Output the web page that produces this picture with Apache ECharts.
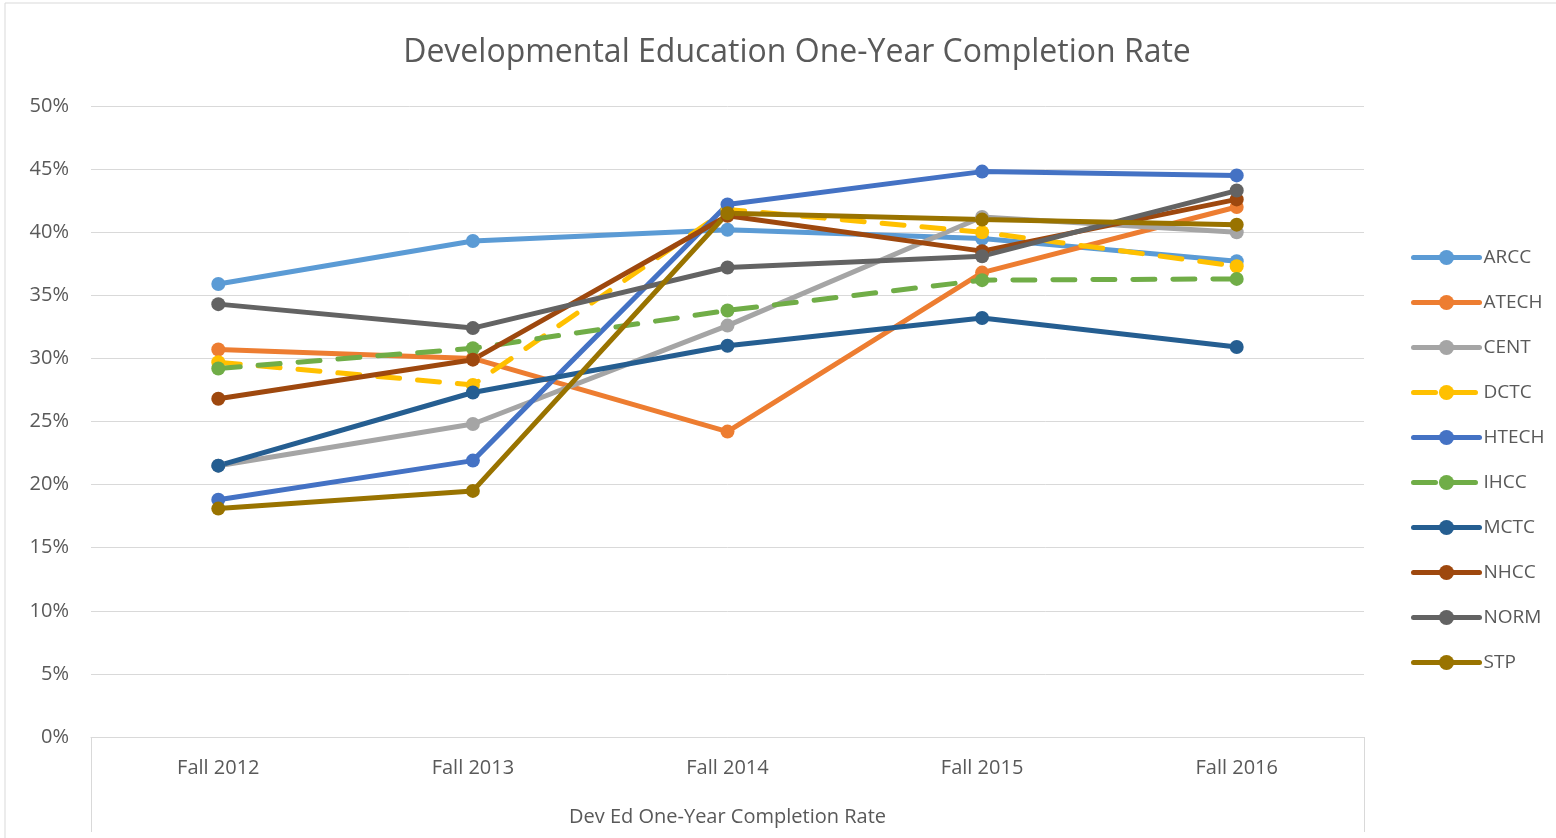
<!DOCTYPE html>
<html>
<head>
<meta charset="utf-8">
<script src="https://cdn.jsdelivr.net/npm/echarts@6/dist/echarts.min.js"></script>
<style>
  html, body { margin: 0; padding: 0; background: #fff; }
  #chart { width: 1556px; height: 838px; }
</style>
</head>
<body>
<div id="chart"></div>
<script>
// categories and series values (percent)
const terms = ['Fall 2012', 'Fall 2013', 'Fall 2014', 'Fall 2015', 'Fall 2016']
const ARCC  = [35.9, 39.3, 40.2, 39.5, 37.7]
const ATECH = [30.7, 30.0, 24.2, 36.8, 42.0]
const CENT  = [21.5, 24.8, 32.6, 41.2, 40.0]
const DCTC  = [29.7, 27.9, 41.8, 40.0, 37.3]
const HTECH = [18.8, 21.9, 42.2, 44.8, 44.5]
const IHCC  = [29.2, 30.8, 33.8, 36.2, 36.3]
const MCTC  = [21.5, 27.3, 31.0, 33.2, 30.9]
const NHCC  = [26.8, 29.9, 41.3, 38.5, 42.6]
const NORM  = [34.3, 32.4, 37.2, 38.1, 43.3]
const STP   = [18.1, 19.5, 41.5, 41.0, 40.6]

const seriesDefs = [
  { name: 'ARCC', data: ARCC, color: '#5B9BD5' },
  { name: 'ATECH', data: ATECH, color: '#ED7D31' },
  { name: 'CENT', data: CENT, color: '#A5A5A5' },
  { name: 'DCTC', data: DCTC, color: '#FFC000', dashed: true },
  { name: 'HTECH', data: HTECH, color: '#4472C4' },
  { name: 'IHCC', data: IHCC, color: '#70AD47', dashed: true },
  { name: 'MCTC', data: MCTC, color: '#255E91' },
  { name: 'NHCC', data: NHCC, color: '#9E480E' },
  { name: 'NORM', data: NORM, color: '#636363' },
  { name: 'STP', data: STP, color: '#997300' }
]

const font = 'Open Sans'
const textColor = '#595959'

const chart = echarts.init(document.getElementById('chart'))

const option = {
  backgroundColor: '#fff',
  animation: false,
  title: {
    text: 'Developmental Education One-Year Completion Rate',
    left: 792,
    top: 32,
    textAlign: 'center',
    textStyle: { color: textColor, fontFamily: font, fontWeight: 'normal', fontSize: 32 }
  },
  legend: {
    orient: 'vertical',
    left: 1406,
    top: 243,
    itemWidth: 66,
    itemHeight: 19,
    itemGap: 26,
    lineStyle: { width: 5 },
    textStyle: { color: textColor, fontFamily: font, fontSize: 19, padding: [0, 0, 0, -1] },
    data: seriesDefs.map(s => s.name)
  },
  grid: { left: 91, right: 192, top: 106, bottom: 101 },
  xAxis: {
    type: 'category',
    data: terms,
    boundaryGap: true,
    axisLine: { lineStyle: { color: '#d9d9d9', width: 1 } },
    axisTick: { show: false },
    axisLabel: { color: textColor, fontFamily: font, fontSize: 20, margin: 21 },
    name: 'Dev Ed One-Year Completion Rate',
    nameLocation: 'middle',
    nameGap: 70,
    nameTextStyle: { color: textColor, fontFamily: font, fontSize: 20 }
  },
  yAxis: {
    type: 'value',
    min: 0,
    max: 50,
    interval: 5,
    axisLine: { show: false },
    axisTick: { show: false },
    axisLabel: { color: textColor, fontFamily: font, fontSize: 20, margin: 22, formatter: v => v + '%' },
    splitLine: { lineStyle: { color: '#d9d9d9', width: 1 } }
  },
  graphic: [
    { type: 'rect', shape: { x: 5, y: 3, width: 1560, height: 840 }, style: { fill: 'none', stroke: '#d9d9d9', lineWidth: 1 } },
    { type: 'line', shape: { x1: 91.5, y1: 737, x2: 91.5, y2: 832 }, style: { stroke: '#d9d9d9', lineWidth: 1 } },
    { type: 'line', shape: { x1: 1364.5, y1: 737, x2: 1364.5, y2: 832 }, style: { stroke: '#d9d9d9', lineWidth: 1 } }
  ],
  series: seriesDefs.map(s => ({
    name: s.name,
    type: 'line',
    data: s.data,
    symbol: 'circle',
    symbolSize: 14,
    itemStyle: { color: s.color },
    lineStyle: {
      color: s.color,
      width: 5,
      type: s.dashed ? [22, 18] : 'solid',
      cap: 'round'
    },
    emphasis: { disabled: true }
  }))
}

chart.setOption(option)
</script>
</body>
</html>
